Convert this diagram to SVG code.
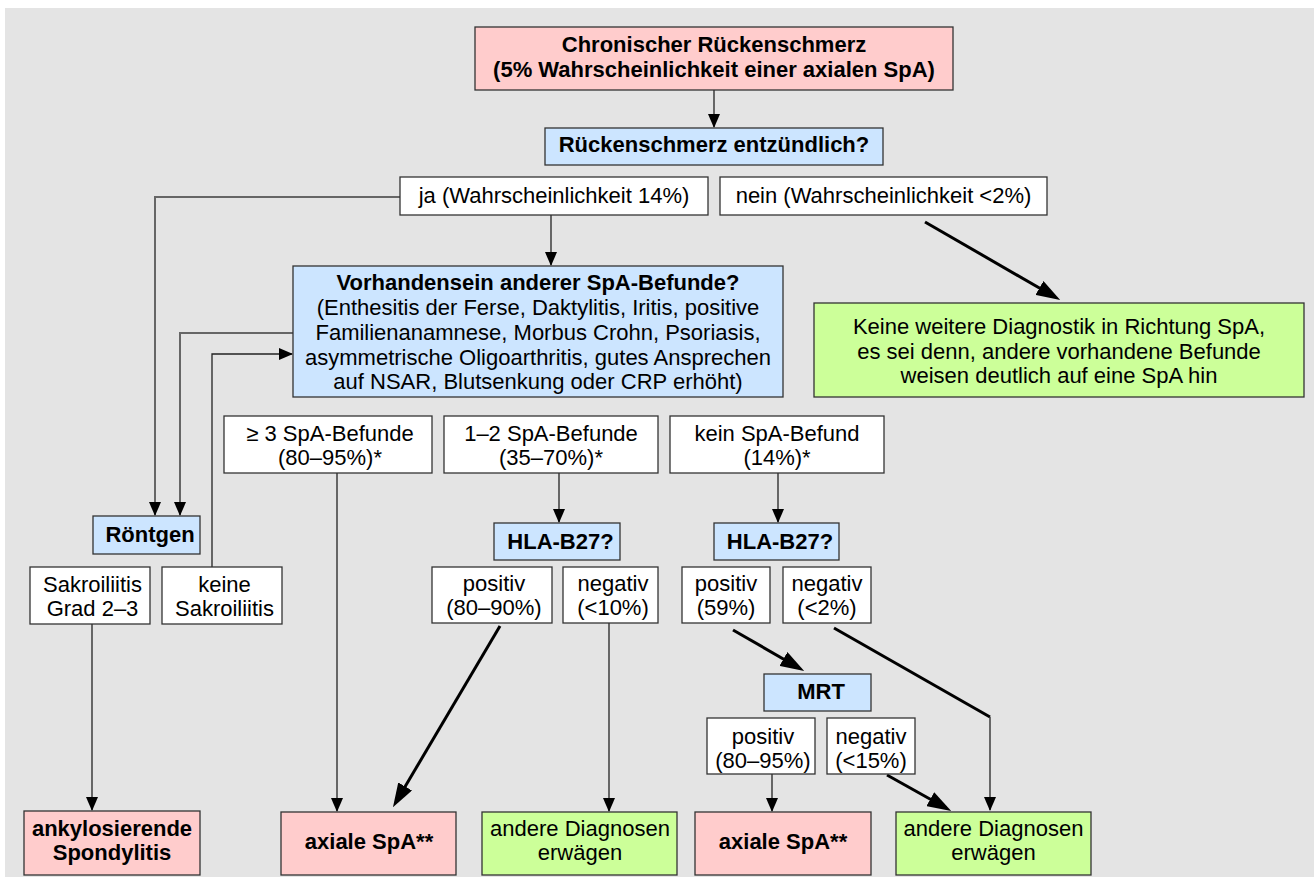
<svg xmlns="http://www.w3.org/2000/svg" width="1314" height="879" viewBox="0 0 1314 879">
<defs>
<style>
text{font-family:"Liberation Sans",Arial,sans-serif;font-size:22px;fill:#000;text-anchor:middle}
.b{font-weight:bold}
rect.n{stroke:#333;stroke-width:1.3}
.pink{fill:#ffcccc}
.blue{fill:#cce5ff}
.green{fill:#ccff99}
.white{fill:#fff}
.thin{fill:none;stroke:#222;stroke-width:1.3}
.gray{fill:none;stroke:#666;stroke-width:2}
.thick{fill:none;stroke:#000;stroke-width:3}
</style>
<marker id="a" markerUnits="userSpaceOnUse" markerWidth="14" markerHeight="12" refX="13" refY="6" orient="auto"><path d="M0,0 L14,6 L0,12 z" fill="#000"/></marker>
<marker id="A" markerUnits="userSpaceOnUse" markerWidth="24" markerHeight="16" refX="18" refY="8" orient="auto"><path d="M0,0 L24,8 L0,16 z" fill="#000"/></marker>
</defs>
<rect x="5" y="8" width="1309" height="869" fill="#e4e4e4"/>

<g id="connectors">
<path class="thin" d="M714,90 V127" marker-end="url(#a)"/>
<path class="thin" d="M551,215 V265" marker-end="url(#a)"/>
<path class="gray" d="M400,197 H155 V515" marker-end="url(#a)"/>
<path class="gray" d="M293,333 H180 V515" marker-end="url(#a)"/>
<path class="thin" d="M212,567 V354 H292" marker-end="url(#a)"/>
<path class="gray" d="M337,473 V811" marker-end="url(#a)"/>
<path class="thin" d="M559,473 V522" marker-end="url(#a)"/>
<path class="thin" d="M778,473 V522" marker-end="url(#a)"/>
<path class="thick" d="M925,222 L1055,297" marker-end="url(#A)"/>
<path class="thin" d="M92,624 V810" marker-end="url(#a)"/>
<path class="thick" d="M500,626 L396,802" marker-end="url(#A)"/>
<path class="thin" d="M609,623 V811" marker-end="url(#a)"/>
<path class="thick" d="M733,630 L799,668" marker-end="url(#A)"/>
<path class="thick" d="M834,628 L990,717" />
<path class="thin" d="M990,717 V810" marker-end="url(#a)"/>
<path class="thin" d="M772,774 V811" marker-end="url(#a)"/>
<path class="thick" d="M887,775 L946,808" marker-end="url(#A)"/>
</g>

<g id="n-start"><rect class="n pink" x="475" y="27" width="478" height="63"/>
<text class="b" x="714" y="52">Chronischer Rückenschmerz</text>
<text class="b" x="714" y="77">(5% Wahrscheinlichkeit einer axialen SpA)</text></g>

<g id="n-entz"><rect class="n blue" x="545" y="128" width="338" height="37"/>
<text class="b" x="714" y="152">Rückenschmerz entzündlich?</text></g>

<g id="n-ja"><rect class="n white" x="400" y="177" width="308" height="38"/>
<text x="554" y="203">ja (Wahrscheinlichkeit 14%)</text></g>

<g id="n-nein"><rect class="n white" x="720" y="177" width="327" height="38"/>
<text x="883.5" y="203">nein (Wahrscheinlichkeit &lt;2%)</text></g>

<g id="n-befunde"><rect class="n blue" x="293" y="266" width="490" height="131"/>
<text class="b" x="538" y="290">Vorhandensein anderer SpA-Befunde?</text>
<text x="538" y="315">(Enthesitis der Ferse, Daktylitis, Iritis, positive</text>
<text x="538" y="340">Familienanamnese, Morbus Crohn, Psoriasis,</text>
<text x="538" y="364.5">asymmetrische Oligoarthritis, gutes Ansprechen</text>
<text x="538" y="389">auf NSAR, Blutsenkung oder CRP erhöht)</text></g>

<g id="n-keine-diag"><rect class="n green" x="814" y="303" width="490" height="94"/>
<text x="1059" y="334">Keine weitere Diagnostik in Richtung SpA,</text>
<text x="1059" y="359">es sei denn, andere vorhandene Befunde</text>
<text x="1059" y="383">weisen deutlich auf eine SpA hin</text></g>

<g id="n-ge3"><rect class="n white" x="224" y="416" width="208" height="57"/>
<text x="330" y="441">≥ 3 SpA-Befunde</text>
<text x="330" y="465">(80–95%)*</text></g>

<g id="n-12"><rect class="n white" x="444" y="416" width="214" height="57"/>
<text x="551" y="441">1–2 SpA-Befunde</text>
<text x="551" y="465">(35–70%)*</text></g>

<g id="n-kein"><rect class="n white" x="670" y="416" width="214" height="57"/>
<text x="777" y="441">kein SpA-Befund</text>
<text x="777" y="465">(14%)*</text></g>

<g id="n-roentgen"><rect class="n blue" x="93" y="516" width="107" height="38"/>
<text class="b" x="150" y="542">Röntgen</text></g>

<g id="n-hla1"><rect class="n blue" x="494" y="523" width="126" height="37"/>
<text class="b" x="560.5" y="549">HLA-B27?</text></g>

<g id="n-hla2"><rect class="n blue" x="714" y="523" width="125" height="37"/>
<text class="b" x="780" y="549">HLA-B27?</text></g>

<g id="n-sakro"><rect class="n white" x="30" y="567" width="120" height="57"/>
<text x="92.5" y="592">Sakroiliitis</text>
<text x="92.5" y="616">Grad 2–3</text></g>

<g id="n-keine-sakro"><rect class="n white" x="162" y="567" width="120" height="57"/>
<text x="224.5" y="592">keine</text>
<text x="224.5" y="616">Sakroiliitis</text></g>

<g id="n-pos1"><rect class="n white" x="432" y="567" width="120" height="56"/>
<text x="494" y="591">positiv</text>
<text x="494" y="615">(80–90%)</text></g>

<g id="n-neg1"><rect class="n white" x="563" y="567" width="95" height="56"/>
<text x="613" y="591">negativ</text>
<text x="613" y="615">(&lt;10%)</text></g>

<g id="n-pos2"><rect class="n white" x="682" y="567" width="88" height="56"/>
<text x="726" y="591">positiv</text>
<text x="726" y="615">(59%)</text></g>

<g id="n-neg2"><rect class="n white" x="783" y="567" width="88" height="56"/>
<text x="827" y="591">negativ</text>
<text x="827" y="615">(&lt;2%)</text></g>

<g id="n-mrt"><rect class="n blue" x="764" y="674" width="107" height="37"/>
<text class="b" x="821" y="699">MRT</text></g>

<g id="n-mrt-pos"><rect class="n white" x="707" y="718" width="108" height="56"/>
<text x="763" y="744">positiv</text>
<text x="763" y="768">(80–95%)</text></g>

<g id="n-mrt-neg"><rect class="n white" x="827" y="718" width="88" height="56"/>
<text x="871" y="744">negativ</text>
<text x="871" y="768">(&lt;15%)</text></g>

<g id="n-ankylo"><rect class="n pink" x="24" y="811" width="176" height="64"/>
<text class="b" x="112" y="836">ankylosierende</text>
<text class="b" x="112" y="860">Spondylitis</text></g>

<g id="n-axial1"><rect class="n pink" x="281" y="812" width="175" height="63"/>
<text class="b" x="369" y="849">axiale SpA**</text></g>

<g id="n-andere1"><rect class="n green" x="482" y="812" width="195" height="63"/>
<text x="580" y="836">andere Diagnosen</text>
<text x="580" y="860">erwägen</text></g>

<g id="n-axial2"><rect class="n pink" x="695" y="812" width="176" height="63"/>
<text class="b" x="783" y="849">axiale SpA**</text></g>

<g id="n-andere2"><rect class="n green" x="896" y="812" width="195" height="63"/>
<text x="993.5" y="836">andere Diagnosen</text>
<text x="993.5" y="860">erwägen</text></g>
</svg>
